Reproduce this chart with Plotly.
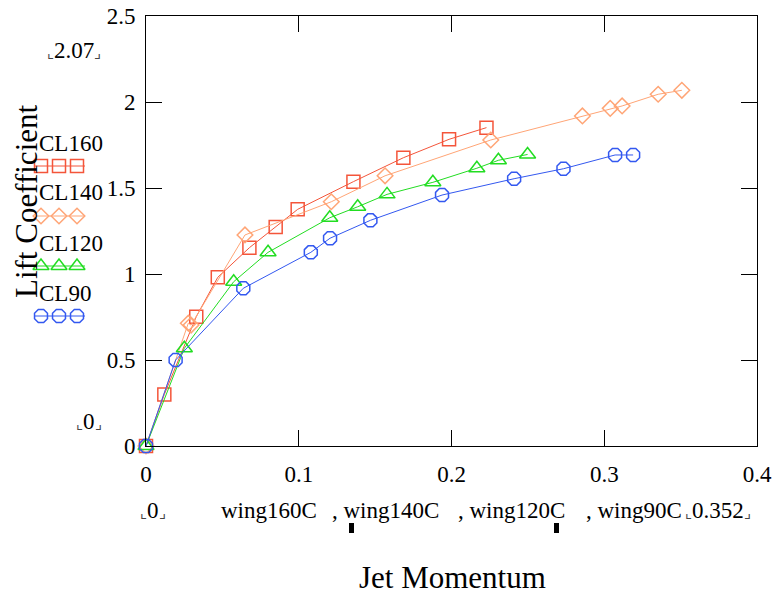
import plotly.graph_objects as go

# ---- data ----
jm160 = [0, 0.012, 0.0329, 0.047, 0.0677, 0.0849, 0.0993, 0.1358, 0.1685, 0.1984, 0.2229]
cl160 = [0, 0.30, 0.752, 0.981, 1.153, 1.273, 1.376, 1.537, 1.676, 1.783, 1.851]

jm140 = [0, 0.0277, 0.0295, 0.0648, 0.1213, 0.1565, 0.2257, 0.2857, 0.3039, 0.3117, 0.3353, 0.3508]
cl140 = [0, 0.714, 0.703, 1.227, 1.42, 1.571, 1.779, 1.919, 1.963, 1.977, 2.045, 2.068]

jm120 = [0, 0.0251, 0.0574, 0.0799, 0.1203, 0.1386, 0.1578, 0.1878, 0.2166, 0.2307, 0.2498]
cl120 = [0, 0.568, 0.955, 1.126, 1.327, 1.391, 1.463, 1.533, 1.615, 1.661, 1.695]

jm90 = [0, 0.0194, 0.0637, 0.1079, 0.1205, 0.1469, 0.1938, 0.241, 0.2733, 0.3071, 0.3189]
cl90 = [0, 0.5, 0.917, 1.126, 1.208, 1.312, 1.459, 1.554, 1.612, 1.692, 1.692]

series_names = ["CL160", "CL140", "CL120", "CL90"]
x_ticks = [0, 0.1, 0.2, 0.3, 0.4]
x_ticklabels = ["0", "0.1", "0.2", "0.3", "0.4"]
y_ticks = [0, 0.5, 1, 1.5, 2, 2.5]
y_ticklabels = ["0", "0.5", "1", "1.5", "2", "2.5"]

# ---- styles ----
W, H = 779, 595
FONT = "Liberation Serif"
colors = ["#F4553A", "#FFA576", "#22DD22", "#3358F0"]
symbols = ["square-open", "diamond-open", "triangle-up-open", "octagon-open"]
msizes = [13, 12, 14, 14]
xs = [jm160, jm140, jm120, jm90]
ys = [cl160, cl140, cl120, cl90]

# plot area in pixels
PL, PR, PT, PB = 146, 757, 16, 446

fig = go.Figure()
for name, x, y, c, s, ms in zip(series_names, xs, ys, colors, symbols, msizes):
    fig.add_trace(go.Scatter(
        x=x, y=y, mode="lines+markers", name=name,
        line=dict(color=c, width=1),
        marker=dict(symbol=s, size=ms, color=c, line=dict(color=c, width=1.5)),
        showlegend=False, xaxis="x", yaxis="y", cliponaxis=False,
    ))

# legend samples on a pixel-coordinate helper axis
leg_text_y = [143, 193, 243, 293]
leg_mark_y = [166, 216, 266, 316]
for name, c, s, ms, ty, my in zip(series_names, colors, symbols, msizes, leg_text_y, leg_mark_y):
    fig.add_trace(go.Scatter(x=[35, 85], y=[my, my], mode="lines",
                             line=dict(color=c, width=1), showlegend=False,
                             xaxis="x2", yaxis="y2", hoverinfo="skip"))
    fig.add_trace(go.Scatter(x=[41, 59, 77], y=[my, my, my], mode="markers",
                             marker=dict(symbol=s, size=ms, color=c, line=dict(color=c, width=1.5)),
                             showlegend=False, xaxis="x2", yaxis="y2", hoverinfo="skip"))
    fig.add_annotation(x=37 / W, y=1 - ty / H, xref="paper", yref="paper",
                       text=name, showarrow=False, xanchor="left", yanchor="middle",
                       font=dict(family=FONT, size=23, color="black"))

axis_common = dict(showline=True, linecolor="black", linewidth=1, mirror="ticks",
                   ticks="inside", ticklen=16, tickwidth=1, tickcolor="black",
                   showgrid=False, zeroline=False, automargin=False,
                   tickfont=dict(family=FONT, size=23, color="black"))

fig.update_layout(
    width=W, height=H,
    margin=dict(l=0, r=0, t=0, b=0, pad=0),
    font=dict(family=FONT, color="black"),
    paper_bgcolor="white", plot_bgcolor="white",
    xaxis=dict(domain=[PL / W, PR / W], range=[0, 0.4], tickvals=x_ticks,
               ticktext=x_ticklabels, ticklabelstandoff=7, anchor="y", **axis_common),
    yaxis=dict(domain=[1 - PB / H, 1 - PT / H], range=[0, 2.5], tickvals=y_ticks,
               ticktext=y_ticklabels, ticklabelstandoff=5, anchor="x", **axis_common),
    xaxis2=dict(domain=[0, 140 / W], range=[0, 140], visible=False, anchor="y2", automargin=False),
    yaxis2=dict(domain=[0, 1], range=[H, 0], visible=False, anchor="x2", automargin=False),
    showlegend=False,
)

def ann(px, py, text, size=23, **kw):
    fig.add_annotation(x=px / W, y=1 - py / H, xref="paper", yref="paper", text=text,
                       showarrow=False, xanchor="center", yanchor="middle",
                       font=dict(family=FONT, size=size, color="black"), **kw)

BL = "<span style='font-size:15px;color:#444'>⌞</span>"
BR = "<span style='font-size:15px;color:#444'>⌟</span>"

ann(26, 201, "Lift Coefficient", size=31, textangle=-90)
ann(452, 577, "Jet Momentum", size=31)
ann(74, 50, BL + "2.07" + BR)
ann(89, 421, BL + "0" + BR)
ann(153, 510, BL + "0" + BR)
ann(269, 510, "wing160C")
ann(385, 510, ", wing140C")
ann(511, 510, ", wing120C")
ann(634, 510, ", wing90C")
ann(718, 510, BL + "0.352" + BR)

for bx in [351.5, 556.5]:
    fig.add_shape(type="rect", xref="paper", yref="paper",
                  x0=(bx - 2.5) / W, x1=(bx + 2.5) / W,
                  y0=1 - 533 / H, y1=1 - 523 / H,
                  fillcolor="black", line=dict(width=0))

fig.write_html("out.html")
